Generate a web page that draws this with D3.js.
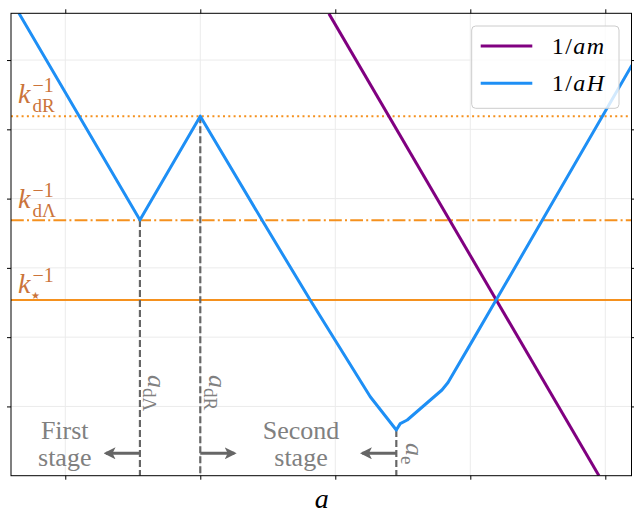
<!DOCTYPE html>
<html>
<head>
<meta charset="utf-8">
<script src="https://cdn.jsdelivr.net/npm/d3@7"></script>
<style>
  body { margin: 0; background: #fff; }
  text { font-family: "Liberation Serif", "DejaVu Serif", serif; }
</style>
</head>
<body>
<div id="chart"></div>
<script>
// ticks (no labels in the figure)
const xTicks = [1, 2, 3, 4, 5];
const yTicks = [1, 2, 3, 4, 5, 6];

// 1/aH curve (log units)
const blueX = [0.657, 1.553, 2.0, 2.457, 2.814, 3.259, 3.452, 3.481, 3.533, 3.790, 3.835, 4.013, 4.191, 5.197];
const blueY = [6.675, 3.690, 5.190, 3.690, 2.535, 1.140, 0.659, 0.752, 0.804, 1.237, 1.345, 1.939, 2.535, 5.926];

// 1/am line
const purpleX = [2.953, 4.953];
const purpleY = [6.670, 0.0];

// horizontal scales k^-1
const kNames = ["dR", "dΛ", "★"];
const kValues = [5.19, 3.689, 2.535];

// vertical markers a_dΛ, a_dR, a_e
const aNames = ["dΛ", "dR", "e"];
const aValues = [1.553, 2.0, 3.452];
const aTops = [3.690, 5.190, 0.659];
const aArrowDir = [-1, 1, -1];

const stageLines = [["First", "stage"], ["Second", "stage"]];
const stageX = [0.996, 2.746];

const legendNames = ["1/am", "1/aH"];

const W = 634, H = 515;
const margin = { top: 13.3, right: 2.5, bottom: 39.3, left: 11 };
const width = W - margin.left - margin.right;
const height = H - margin.top - margin.bottom;

const x = d3.scaleLinear().domain([0.598, 5.194]).range([0, width]);
const y = d3.scaleLinear().domain([0, 6.675]).range([height, 0]);

const orange = "#f5911e";
const kColor = "#cb743a";
const gray = "#666666";
const textGray = "#808080";

const svg = d3.select("#chart").append("svg")
  .attr("width", W).attr("height", H);

svg.append("defs").append("clipPath").attr("id", "clip")
  .append("rect").attr("width", width).attr("height", height);

svg.select("defs").append("marker")
  .attr("id", "head")
  .attr("viewBox", "0 0 10 10")
  .attr("refX", 8).attr("refY", 5)
  .attr("markerWidth", 4).attr("markerHeight", 4)
  .attr("markerUnits", "strokeWidth")
  .attr("orient", "auto")
  .append("path").attr("d", "M0,0 L10,5 L0,10 L2.5,5 Z").attr("fill", gray);

const g = svg.append("g").attr("transform", `translate(${margin.left},${margin.top})`);

// grid
g.append("g").selectAll("line").data(xTicks).enter().append("line")
  .attr("x1", d => x(d)).attr("x2", d => x(d))
  .attr("y1", 0).attr("y2", height)
  .attr("stroke", "#ebebeb").attr("stroke-width", 1);
g.append("g").selectAll("line").data(yTicks).enter().append("line")
  .attr("y1", d => y(d)).attr("y2", d => y(d))
  .attr("x1", 0).attr("x2", width)
  .attr("stroke", "#ebebeb").attr("stroke-width", 1);

const plot = g.append("g").attr("clip-path", "url(#clip)");

// horizontal k lines
const kDash = ["2,3.3", "12.8,3.2,2,3.2", null];
plot.selectAll(".kline").data(kValues).enter().append("line")
  .attr("x1", 0).attr("x2", width)
  .attr("y1", d => y(d)).attr("y2", d => y(d))
  .attr("stroke", orange).attr("stroke-width", 2)
  .attr("stroke-dasharray", (d, i) => kDash[i]);

// vertical dashed markers
plot.selectAll(".aline").data(aValues).enter().append("line")
  .attr("x1", d => x(d)).attr("x2", d => x(d))
  .attr("y1", (d, i) => y(aTops[i])).attr("y2", height)
  .attr("stroke", gray).attr("stroke-width", 2.2)
  .attr("stroke-dasharray", "7,3");

const line = d3.line().x(d => x(d[0])).y(d => y(d[1]));

plot.append("path")
  .datum(purpleX.map((v, i) => [v, purpleY[i]]))
  .attr("d", line).attr("fill", "none")
  .attr("stroke", "#800080").attr("stroke-width", 3);

plot.append("path")
  .datum(blueX.map((v, i) => [v, blueY[i]]))
  .attr("d", line).attr("fill", "none")
  .attr("stroke", "#1e8ff5").attr("stroke-width", 3)
  .attr("stroke-linejoin", "round");

// arrows
g.selectAll(".arrow").data(aValues).enter().append("line")
  .attr("x1", d => x(d)).attr("x2", (d, i) => x(d) + aArrowDir[i] * 34)
  .attr("y1", height - 22.4).attr("y2", height - 22.4)
  .attr("stroke", gray).attr("stroke-width", 3)
  .attr("marker-end", "url(#head)");

// rotated a labels
const aLab = g.selectAll(".alab").data(aValues).enter().append("text")
  .attr("transform", (d, i) => `translate(${x(d) + (i === 2 ? 10 : 8.5)},${i === 2 ? 429.7 : 361.7}) rotate(90)`)
  .attr("fill", textGray).style("font-size", "26px");
aLab.append("tspan").style("font-style", "italic").text("a");
aLab.append("tspan").attr("dy", 5).style("font-size", "19px").text((d, i) => aNames[i]);

// stage texts
stageLines.forEach((lines, i) => {
  lines.forEach((t, j) => {
    g.append("text")
      .attr("x", x(stageX[i])).attr("y", 425.7 + j * 27.5)
      .attr("text-anchor", "middle")
      .attr("fill", textGray).style("font-size", "26px")
      .text(t);
  });
});

// k labels
const kOff = [-13, -12, -7];
kValues.forEach((v, i) => {
  const by = y(v) + kOff[i];
  g.append("text").attr("x", 7).attr("y", by)
    .attr("fill", kColor).style("font-size", "28px").style("font-style", "italic").text("k");
  g.append("text").attr("x", 21.5).attr("y", by - 11)
    .attr("fill", kColor).style("font-size", "20px").text("−1");
  g.append("text").attr("x", i === 2 ? 20 : 21.5).attr("y", by + (i === 2 ? 5.5 : 8.5))
    .attr("fill", kColor)
    .style("font-size", i === 2 ? "10px" : "19px")
    .style("font-family", i === 2 ? "DejaVu Sans" : null)
    .text(kNames[i]);
});

// frame and ticks
g.append("rect").attr("width", width).attr("height", height)
  .attr("fill", "none").attr("stroke", "#000").attr("stroke-width", 1);

g.append("g").attr("transform", `translate(0,${height})`)
  .call(d3.axisBottom(x).tickValues(xTicks).tickSize(4).tickFormat(""))
  .call(a => a.select(".domain").remove());
g.append("g")
  .call(d3.axisTop(x).tickValues(xTicks).tickSize(4).tickFormat(""))
  .call(a => a.select(".domain").remove());
g.append("g")
  .call(d3.axisLeft(y).tickValues(yTicks).tickSize(4).tickFormat(""))
  .call(a => a.select(".domain").remove());
g.append("g").attr("transform", `translate(${width},0)`)
  .call(d3.axisRight(y).tickValues(yTicks).tickSize(4).tickFormat(""))
  .call(a => a.select(".domain").remove());

// x label
g.append("text").attr("x", x(2.9)).attr("y", height + 32)
  .attr("text-anchor", "middle").style("font-size", "28px").style("font-style", "italic")
  .text("a");

// legend
const leg = g.append("g").attr("transform", `translate(${471.7 - margin.left},${26 - margin.top})`);
leg.append("rect").attr("width", 147.3).attr("height", 82.3).attr("rx", 4)
  .attr("fill", "#fff").attr("fill-opacity", 0.8)
  .attr("stroke", "#cccccc").attr("stroke-width", 1);
const legColors = ["#800080", "#1e8ff5"];
legendNames.forEach((n, i) => {
  const ly = 20 + i * 37.3;
  leg.append("line").attr("x1", 9).attr("x2", 60.6).attr("y1", ly).attr("y2", ly)
    .attr("stroke", legColors[i]).attr("stroke-width", 3);
  const t = leg.append("text").attr("x", 80).attr("y", ly + 8)
    .style("font-size", "24px").style("letter-spacing", "1.5px");
  t.append("tspan").text("1/");
  t.append("tspan").style("font-style", "italic").text(n.slice(2));
});
</script>
</body>
</html>
